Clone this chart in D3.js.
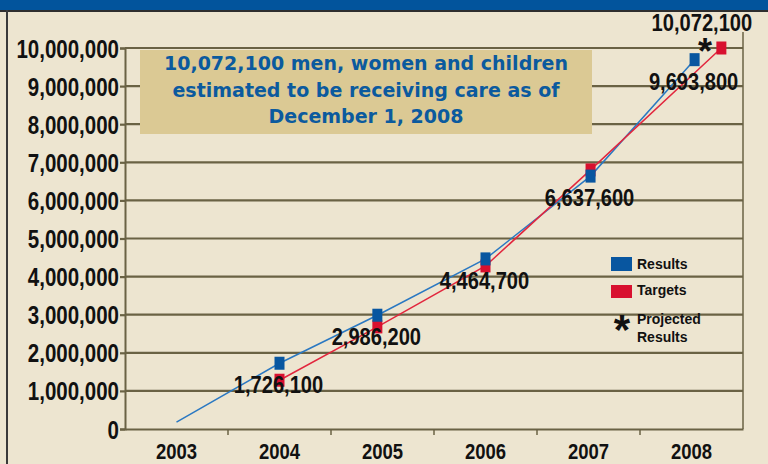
<!DOCTYPE html>
<html>
<head>
<meta charset="utf-8">
<script src="https://cdn.jsdelivr.net/npm/d3@7/dist/d3.min.js"></script>
<style>
  html, body { margin: 0; padding: 0; background: #ede5d0; }
  svg { display: block; }
</style>
</head>
<body>
<svg id="chart" width="768" height="464"></svg>
<script>
// ---------------- data ----------------
const years = ["2003", "2004", "2005", "2006", "2007", "2008"];
const yTickValues = [0, 1000000, 2000000, 3000000, 4000000, 5000000, 6000000, 7000000, 8000000, 9000000, 10000000];

// Results (blue) — decimal year of each point
const resultsYear  = [2003, 2004, 2004.95, 2006, 2007.02, 2008.03];
const resultsValue = [180000, 1726100, 2986200, 4464700, 6637600, 9693800];
const resultsHasMarker = [false, true, true, true, true, true];

// Targets (red)
const targetsYear  = [2004, 2004.95, 2006, 2007.02, 2008.29];
const targetsValue = [1280000, 2680000, 4280000, 6800000, 10000000];

// Projected result (asterisk)
const projectedYear  = [2008.13];
const projectedValue = [10072100];

const annotationLines = [
  "10,072,100 men, women and children",
  "estimated to be receiving care as of",
  "December 1, 2008"
];
const legendItems = ["Results", "Targets", "Projected|Results"];

// ---------------- layout ----------------
const W = 768, H = 464;
const plotLeft = 125, plotRight = 743, plotTop = 48, plotBottom = 429;
const svg = d3.select("#chart");

// detect the narrow font
function hasFont(name) {
  const t = svg.append("text").attr("font-size", 40).text("10,000,000 mmm");
  t.attr("font-family", "monospace");
  const a = t.node().getComputedTextLength();
  t.attr("font-family", `'${name}', monospace`);
  const b = t.node().getComputedTextLength();
  t.remove();
  return Math.abs(a - b) > 0.5;
}
const narrowOK = hasFont("Liberation Sans Narrow");
const NARROW = narrowOK ? "'Liberation Sans Narrow', 'Arial Narrow', sans-serif" : "'Liberation Sans', Arial, sans-serif";
const SQUEEZE = narrowOK ? 1 : 0.82;

// colours
const BG = "#ede5d0";
const GRID = "#6a6244";
const BLUE_LINE = "#2a78c2";
const RED_LINE = "#e2263d";
const BLUE_MARK = "#0856a0";
const RED_MARK = "#d8102f";

svg.append("rect").attr("width", W).attr("height", H).attr("fill", BG);

// frame
svg.append("rect").attr("x", 0).attr("y", 0).attr("width", W).attr("height", 10).attr("fill", "#02549c");
svg.append("rect").attr("x", 0).attr("y", 10).attr("width", W).attr("height", 2).attr("fill", "#2e2e2e");
svg.append("rect").attr("x", 6).attr("y", 10).attr("width", 2).attr("height", H - 10).attr("fill", "#3a3a3a");

// scales
const y = d3.scaleLinear().domain([0, 10000000]).range([plotBottom, plotTop]);
const xBand = d3.scaleBand().domain(years).range([plotLeft, plotRight]).padding(0);
const x = d3.scaleLinear()
  .domain([+years[0], +years[years.length - 1]])
  .range([xBand(years[0]) + xBand.bandwidth() / 2, xBand(years[years.length - 1]) + xBand.bandwidth() / 2]);

function squeeze(sel) {
  if (SQUEEZE === 1) return;
  sel.each(function () {
    const len = this.getComputedTextLength();
    d3.select(this).attr("textLength", len * SQUEEZE).attr("lengthAdjust", "spacingAndGlyphs");
  });
}

// gridlines
svg.append("g").selectAll("line").data(yTickValues.filter(d => d > 0)).join("line")
  .attr("x1", plotLeft).attr("x2", plotRight)
  .attr("y1", d => y(d)).attr("y2", d => y(d))
  .attr("stroke", GRID).attr("stroke-width", 2.2);

// right border of plot
svg.append("line").attr("x1", plotRight).attr("x2", plotRight)
  .attr("y1", 32).attr("y2", plotBottom)
  .attr("stroke", GRID).attr("stroke-width", 1.5);

// y axis
const yAxis = svg.append("g").attr("transform", `translate(${plotLeft},0)`)
  .call(d3.axisLeft(y).tickValues(yTickValues).tickFormat(d3.format(",")).tickSize(5).tickPadding(1));
yAxis.select(".domain").attr("stroke", GRID).attr("stroke-width", 2);
yAxis.selectAll(".tick line").attr("stroke", GRID).attr("stroke-width", 2.2);
yAxis.selectAll(".tick text")
  .attr("font-family", NARROW).attr("font-weight", "bold").attr("font-size", 25)
  .attr("fill", "#111").attr("dy", "0.36em");
squeeze(yAxis.selectAll(".tick text"));

// x axis
const xAxis = svg.append("g").attr("transform", `translate(0,${plotBottom})`)
  .call(d3.axisBottom(xBand).tickSize(0).tickPadding(14));
xAxis.select(".domain").attr("stroke", GRID).attr("stroke-width", 2.2);
xAxis.selectAll(".tick text")
  .attr("font-family", NARROW).attr("font-weight", "bold").attr("font-size", 22.5)
  .attr("fill", "#111");
squeeze(xAxis.selectAll(".tick text"));
// ticks between categories
svg.append("g").selectAll("line").data(years.slice(1)).join("line")
  .attr("x1", d => xBand(d)).attr("x2", d => xBand(d))
  .attr("y1", plotBottom).attr("y2", plotBottom + 6)
  .attr("stroke", GRID).attr("stroke-width", 1.5);

// annotation box
const box = svg.append("g");
box.append("rect").attr("x", 140).attr("y", 50).attr("width", 452).attr("height", 84).attr("fill", "#dbc994");
box.selectAll("text").data(annotationLines).join("text")
  .attr("x", 366).attr("y", (d, i) => 70 + i * 26.7)
  .attr("text-anchor", "middle")
  .attr("font-family", "'DejaVu Sans', Verdana, sans-serif").attr("font-weight", "bold")
  .attr("font-size", 19).attr("fill", "#0b5a9e")
  .text(d => d);

// lines
const resultsPts = resultsYear.map((yr, i) => ({ yr, v: resultsValue[i], m: resultsHasMarker[i] }));
const targetsPts = targetsYear.map((yr, i) => ({ yr, v: targetsValue[i] }));
const line = d3.line().x(d => x(d.yr)).y(d => y(d.v));

svg.append("path").datum(resultsPts).attr("d", line)
  .attr("fill", "none").attr("stroke", BLUE_LINE).attr("stroke-width", 1.5);
svg.append("path").datum(targetsPts).attr("d", line)
  .attr("fill", "none").attr("stroke", RED_LINE).attr("stroke-width", 1.5);

// markers
const MW = 10, MH = 13;
svg.append("g").selectAll("rect").data(targetsPts).join("rect")
  .attr("x", d => x(d.yr) - MW / 2).attr("y", d => y(d.v) - MH / 2)
  .attr("width", MW).attr("height", MH).attr("fill", RED_MARK);
svg.append("g").selectAll("rect").data(resultsPts.filter(d => d.m)).join("rect")
  .attr("x", d => x(d.yr) - MW / 2).attr("y", d => y(d.v) - MH / 2)
  .attr("width", MW).attr("height", MH).attr("fill", BLUE_MARK);

// value labels
const fmt = d3.format(",");
const valLabels = svg.append("g").selectAll("text").data(resultsPts.filter(d => d.m)).join("text")
  .attr("x", d => x(d.yr) - 1).attr("y", d => y(d.v) + 30)
  .attr("text-anchor", "middle")
  .attr("font-family", NARROW).attr("font-weight", "bold").attr("font-size", 24.5)
  .attr("fill", "#111")
  .text(d => fmt(d.v));
squeeze(valLabels);

// projected asterisk + label
const projPts = projectedYear.map((yr, i) => ({ yr, v: projectedValue[i] }));
svg.append("g").selectAll("text").data(projPts).join("text")
  .attr("x", d => x(d.yr)).attr("y", d => y(d.v) + 19)
  .attr("text-anchor", "middle")
  .attr("font-family", "'Liberation Sans', Arial, sans-serif").attr("font-weight", "bold")
  .attr("font-size", 36).attr("fill", "#111").text("*");
const projLabel = svg.append("g").selectAll("text").data(projPts).join("text")
  .attr("x", d => x(d.yr) - 3).attr("y", d => y(d.v) - 14)
  .attr("text-anchor", "middle")
  .attr("font-family", NARROW).attr("font-weight", "bold").attr("font-size", 24.5)
  .attr("fill", "#111")
  .text(d => fmt(d.v));
squeeze(projLabel);

// legend
const lg = svg.append("g").attr("transform", "translate(611,257)");
lg.append("rect").attr("x", 0).attr("y", 0).attr("width", 21).attr("height", 14).attr("fill", BLUE_MARK);
lg.append("rect").attr("x", 0).attr("y", 28).attr("width", 21).attr("height", 13).attr("fill", RED_MARK);
lg.append("text").attr("x", 11).attr("y", 87).attr("text-anchor", "middle")
  .attr("font-family", "'Liberation Sans', Arial, sans-serif").attr("font-weight", "bold")
  .attr("font-size", 42).attr("fill", "#111").text("*");
const legTextY = [12, 38, 67];
legendItems.forEach((t, i) => {
  const parts = t.split("|");
  const tx = lg.append("text").attr("x", 26).attr("y", legTextY[i])
    .attr("font-family", "'Liberation Sans', Arial, sans-serif").attr("font-weight", "bold")
    .attr("font-size", 14).attr("fill", "#111");
  parts.forEach((p, j) => tx.append("tspan").attr("x", 26).attr("dy", j === 0 ? 0 : 18).text(p));
});
</script>
</body>
</html>
